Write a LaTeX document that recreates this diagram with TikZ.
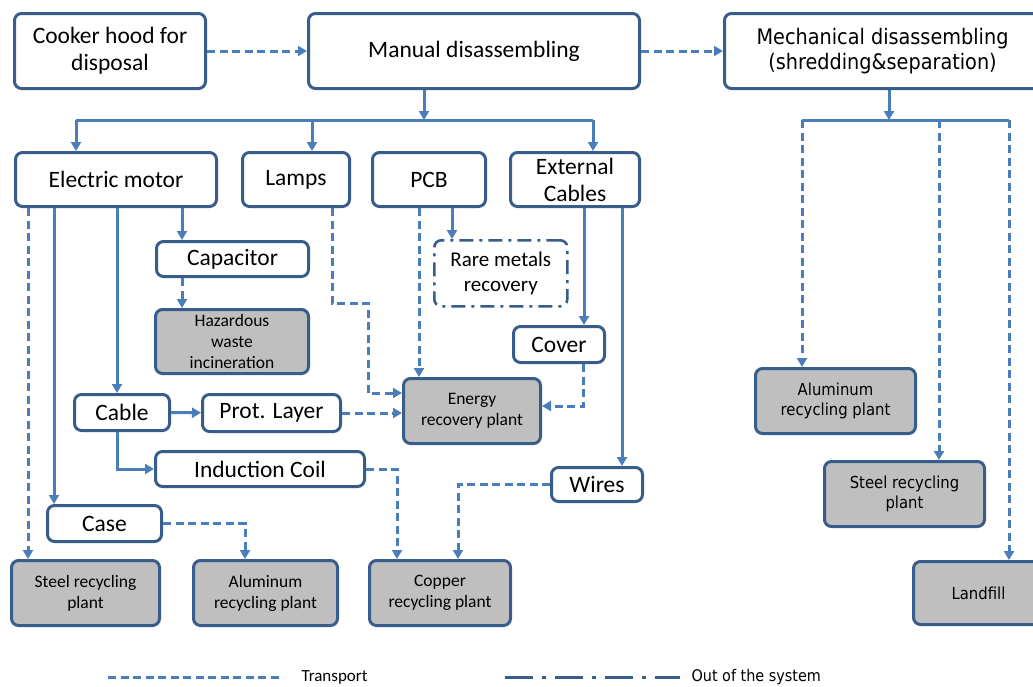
\documentclass[tikz,border=0pt]{standalone}
\usepackage{fontspec}
\setmainfont{Carlito}
\newfontfamily\tahomalike[FakeStretch=0.9]{DejaVu Sans}
\usetikzlibrary{arrows.meta,positioning}
\definecolor{boxblue}{RGB}{56,93,138}
\definecolor{lineblue}{RGB}{74,126,187}
\definecolor{plantgray}{RGB}{191,191,191}

\begin{document}
\begin{tikzpicture}[
  x=1pt, y=-1pt,
  box/.style    = {draw=boxblue, line width=3pt, rounded corners=7pt, fill=white,
                   align=center, inner sep=1pt, anchor=north west,
                   font=\fontsize{23.5}{27}\selectfont},
  plant/.style  = {box, fill=plantgray, font=\fontsize{17.5}{21}\selectfont},
  rplant/.style = {plant, font=\tahomalike\fontsize{16.5}{20.5}\selectfont},
  outbox/.style = {box, line width=2.6pt, dash pattern=on 14pt off 6pt on 3pt off 6pt,
                   font=\fontsize{21}{25}\selectfont},
  line/.style   = {line width=3pt, draw=lineblue},
  arr/.style    = {line, -{Triangle[length=9pt,width=10pt]}},
  tarr/.style   = {arr, dash pattern=on 8pt off 4.5pt},
]
\fill[white] (0,0) rectangle (1033,686);
\useasboundingbox (0,0) rectangle (1033,686);

% ---- top row ----
\node[box, minimum width=191pt, minimum height=75pt] (cooker) at (13,12) {Cooker hood for\\disposal};
\node[box, minimum width=331pt, minimum height=75pt] (manual) at (307,12) {Manual disassembling};
\node[box, minimum width=316pt, minimum height=75pt, font=\tahomalike\fontsize{21.4}{25}\selectfont] (mech) at (723,12) {Mechanical disassembling\\(shredding\&separation)};

% ---- components ----
\node[box, minimum width=201pt, minimum height=54pt] (elmot)  at (14,151)  {Electric motor};
\node[box, minimum width=107pt, minimum height=54pt] (lamps)  at (241,151) {Lamps};
\node[box, minimum width=113pt, minimum height=54pt] (pcb)    at (371,151) {PCB};
\node[box, minimum width=129pt, minimum height=54pt] (extcab) at (509,151) {External\\Cables};
\node[box, minimum width=152pt, minimum height=35pt] (capac)  at (155,240) {Capacitor};
\node[outbox, minimum width=133pt, minimum height=66pt] (raremet) at (433,239) {Rare metals\\recovery};
\node[box, minimum width=91pt, minimum height=36pt]  (cover)  at (512,325) {Cover};
\node[box, minimum width=95pt, minimum height=36pt]  (cable)  at (73,393)  {Cable};
\node[box, minimum width=138pt, minimum height=37pt] (protl)  at (201,393) {Prot. Layer};
\node[box, minimum width=209pt, minimum height=35pt] (induct) at (154,450) {Induction Coil};
\node[box, minimum width=91pt, minimum height=34pt]  (wires)  at (550,466) {Wires};
\node[box, minimum width=114pt, minimum height=36pt] (case)   at (46,504)  {Case};

% ---- plants ----
\node[plant, minimum width=153pt, minimum height=64pt] (hazard) at (154,308) {Hazardous\\waste\\incineration};
\node[plant, minimum width=137pt, minimum height=65pt] (energy) at (402,377) {Energy\\recovery plant};
\node[plant, minimum width=148pt, minimum height=65pt] (steelL) at (10,559)  {Steel recycling\\plant};
\node[plant, minimum width=144pt, minimum height=65pt] (aluL)   at (192,559) {Aluminum\\recycling plant};
\node[plant, minimum width=141pt, minimum height=65pt] (copper) at (368,559) {Copper\\recycling plant};
\node[rplant, minimum width=160pt, minimum height=65pt] (aluR)   at (754,367) {Aluminum\\recycling plant};
\node[rplant, minimum width=160pt, minimum height=65pt] (steelR) at (823,460) {Steel recycling\\plant};
\node[rplant, minimum width=130pt, minimum height=63pt] (landf)  at (912,560) {Landfill};

% ---- hubs ----
\coordinate (mj)  at (424,120);
\coordinate (hb1) at (76,120);
\coordinate (hb2) at (312,120);
\coordinate (hb3) at (593,120);
\coordinate (rj)  at (889,120);
\coordinate (rb1) at (802,120);
\coordinate (rb2) at (939,120);
\coordinate (rb3) at (1009,120);

% ---- edges: top ----
\draw[tarr] (cooker) -- (manual);
\draw[tarr] (manual) -- (mech);
\draw[arr] (manual.south -| mj) -- (mj);
\draw[line] (hb1) -- (hb3);
\draw[arr] (hb1) -- (hb1 |- elmot.north);
\draw[arr] (hb2) -- (hb2 |- lamps.north);
\draw[arr] (hb3) -- (hb3 |- extcab.north);
\draw[arr] (mech.south -| rj) -- (rj);
\draw[line] (rb1) -- (rb3);
\draw[tarr] (rb1) -- (rb1 |- aluR.north);
\draw[tarr] (rb2) -- (rb2 |- steelR.north);
\draw[tarr] (rb3) -- (rb3 |- landf.north);

% ---- edges: electric motor ----
\draw[tarr] ([xshift=14pt]elmot.south west) -- ([xshift=18pt]steelL.north west);
\draw[arr] ([xshift=40pt]elmot.south west) -- ([xshift=8pt]case.north west);
\draw[arr] ([xshift=103pt]elmot.south west) -- ([xshift=44pt]cable.north west);
\draw[arr] ([xshift=168pt]elmot.south west) -- ([xshift=27pt]capac.north west);
\draw[tarr] ([xshift=27pt]capac.south west) -- ([xshift=28pt]hazard.north west);
\draw[arr] (cable) -- (protl);
\draw[tarr] (protl.east) -- (protl.east -| energy.west);
\draw[arr] ([xshift=44pt]cable.south west) |- (induct.west);
\draw[tarr] (induct.east) -| ([xshift=29pt]copper.north west);
\draw[tarr] (case.east) -| ([xshift=53pt]aluL.north west);

% ---- edges: lamps, pcb, cables ----
\draw[tarr] ([xshift=91pt]lamps.south west) -- ++(0,95) -- ++(36,0) |- ([yshift=-16pt]energy.north west);
\draw[tarr] ([xshift=48pt]pcb.south west) -- ([xshift=17pt]energy.north west);
\draw[arr] ([xshift=81pt]pcb.south west) -- ([xshift=19pt]raremet.north west);
\draw[arr] ([xshift=75pt]extcab.south west) -- ([xshift=72pt]cover.north west);
\draw[arr] ([xshift=113pt]extcab.south west) -- ([xshift=72pt]wires.north west);
\draw[tarr] ([xshift=71pt]cover.south west) |- ([yshift=-29pt]energy.north east);
\draw[tarr] (wires.west) -| ([xshift=90pt]copper.north west);

% ---- legend ----
\node[anchor=west, font=\fontsize{17}{20}\selectfont] (legtr) at (298,677) {Transport};
\draw[line, dash pattern=on 8pt off 4.5pt] ([xshift=-190pt]legtr.west) -- ([xshift=-15pt]legtr.west);
\node[anchor=west, font=\tahomalike\fontsize{16}{19}\selectfont] (legout) at (688,677) {Out of the system};
\draw[line, draw=boxblue, dash pattern=on 28pt off 9pt on 4pt off 9pt] ([xshift=-183pt]legout.west) -- ([xshift=-8pt]legout.west);

\end{tikzpicture}
\end{document}
